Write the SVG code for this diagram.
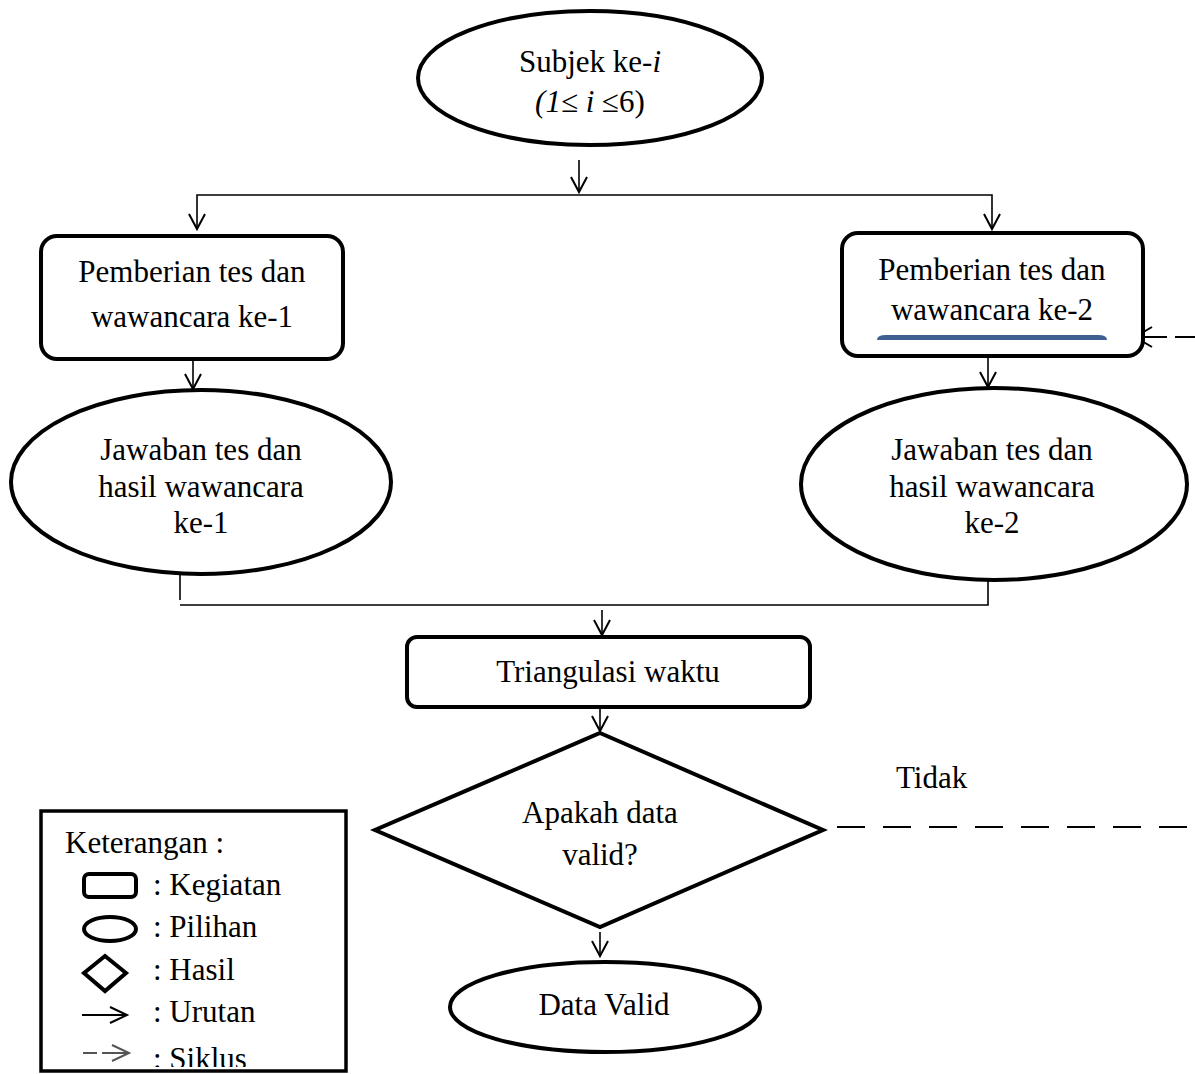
<svg xmlns="http://www.w3.org/2000/svg" width="1195" height="1074" viewBox="0 0 1195 1074">
<style>
.shape{fill:#fff;stroke:#000;stroke-width:4}
.t{font-family:"Liberation Serif","Times New Roman",serif;font-size:31px;fill:#000;text-anchor:middle}
.lt{font-family:"Liberation Serif","Times New Roman",serif;font-size:31px;fill:#000}
.ln{fill:none;stroke:#000;stroke-width:1.6}
.ah{fill:none;stroke:#000;stroke-width:2}
.dash{fill:none;stroke:#000;stroke-width:1.8;stroke-dasharray:28 18}
</style>
<defs>
<clipPath id="legclip"><rect x="40" y="810" width="307" height="257"/></clipPath>
</defs>
<rect width="1195" height="1074" fill="#fff"/>

<g id="connectors">
  <line class="ln" x1="579" y1="160" x2="579" y2="192"/>
  <polyline class="ah" points="571,177 579,192 587,177"/>
  <polyline class="ln" points="197,228 197,195 992,195 992,228"/>
  <polyline class="ah" points="189,214 197,229 205,214"/>
  <polyline class="ah" points="984,214 992,229 1000,214"/>
  <line class="ln" x1="193" y1="360" x2="193" y2="389"/>
  <polyline class="ah" points="185,374 193,389 201,374"/>
  <line class="ln" x1="988" y1="357" x2="988" y2="387"/>
  <polyline class="ah" points="980,372 988,387 996,372"/>
  <line class="ln" x1="180" y1="575" x2="180" y2="600"/>
  <polyline class="ln" points="180,605 988,605 988,581"/>
  <line class="ln" x1="602" y1="610" x2="602" y2="635"/>
  <polyline class="ah" points="594,620 602,635 610,620"/>
  <line class="ln" x1="600" y1="709" x2="600" y2="731"/>
  <polyline class="ah" points="592,716 600,731 608,716"/>
  <line class="ln" x1="600" y1="932" x2="600" y2="956"/>
  <polyline class="ah" points="592,941 600,956 608,941"/>
  <line class="dash" x1="837" y1="827" x2="1195" y2="827"/>
  <line class="ln" x1="1135" y1="337" x2="1167" y2="337" style="stroke-width:2"/>
  <line class="ln" x1="1175" y1="337" x2="1195" y2="337" style="stroke-width:2"/>
  <polyline class="ah" points="1152,327 1135,337 1152,347"/>
</g>

<g id="n-subjek">
  <ellipse class="shape" cx="590" cy="78" rx="172" ry="67"/>
  <text class="t" x="590" y="72">Subjek ke-<tspan font-style="italic">i</tspan></text>
  <text class="t" x="590" y="112"><tspan font-style="italic">(1≤ i </tspan>≤6)</text>
</g>

<g id="n-tes1">
  <rect class="shape" x="41" y="236" width="302" height="123" rx="16"/>
  <text class="t" x="192" y="282">Pemberian tes dan</text>
  <text class="t" x="192" y="327">wawancara ke-1</text>
</g>

<g id="n-tes2">
  <rect class="shape" x="842" y="233" width="301" height="123" rx="16"/>
  <text class="t" x="992" y="280">Pemberian tes dan</text>
  <text class="t" x="992" y="320">wawancara ke-2</text>
  <path d="M877,340 Q877,335 886,335 L1098,335 Q1107,335 1107,340 Z" fill="#3d5f91"/>
</g>

<g id="n-jawab1">
  <ellipse class="shape" cx="201" cy="482" rx="190" ry="92"/>
  <text class="t" x="201" y="460">Jawaban tes dan</text>
  <text class="t" x="201" y="497">hasil wawancara</text>
  <text class="t" x="201" y="533">ke-1</text>
</g>

<g id="n-jawab2">
  <ellipse class="shape" cx="994" cy="484" rx="193" ry="96"/>
  <text class="t" x="992" y="460">Jawaban tes dan</text>
  <text class="t" x="992" y="497">hasil wawancara</text>
  <text class="t" x="992" y="533">ke-2</text>
</g>

<g id="n-triangulasi">
  <rect class="shape" x="407" y="637" width="403" height="70" rx="10"/>
  <text class="t" x="608" y="682">Triangulasi waktu</text>
</g>

<g id="n-valid">
  <polygon class="shape" points="600,733 823,830 600,927 375,830"/>
  <text class="t" x="600" y="823">Apakah data</text>
  <text class="t" x="600" y="865">valid?</text>
</g>

<g id="n-tidak">
  <text class="lt" x="896" y="788">Tidak</text>
</g>

<g id="n-datavalid">
  <ellipse class="shape" cx="605" cy="1007" rx="155" ry="45"/>
  <text class="t" x="604" y="1015">Data Valid</text>
</g>

<g id="legend">
  <rect x="41" y="811" width="305" height="260" fill="#fff" stroke="#000" stroke-width="3.5"/>
  <g clip-path="url(#legclip)">
    <text class="lt" x="65" y="853">Keterangan :</text>
    <rect x="84" y="874" width="52" height="23" rx="5" fill="none" stroke="#000" stroke-width="4"/>
    <text class="lt" x="153" y="895">: Kegiatan</text>
    <ellipse cx="110" cy="929" rx="26" ry="12" fill="none" stroke="#000" stroke-width="4"/>
    <text class="lt" x="153" y="937">: Pilihan</text>
    <polygon points="105,956 126,973 105,991 84,973" fill="none" stroke="#000" stroke-width="4"/>
    <text class="lt" x="153" y="980">: Hasil</text>
    <line x1="82" y1="1015" x2="126" y2="1015" stroke="#000" stroke-width="2"/>
    <polyline points="110,1007 127,1015 110,1023" fill="none" stroke="#000" stroke-width="2"/>
    <text class="lt" x="153" y="1022">: Urutan</text>
    <line x1="83" y1="1053" x2="97" y2="1053" stroke="#555" stroke-width="2"/>
    <line x1="102" y1="1053" x2="128" y2="1053" stroke="#555" stroke-width="2"/>
    <polyline points="112,1045 129,1053 112,1061" fill="none" stroke="#555" stroke-width="2"/>
    <text class="lt" x="153" y="1069">: Siklus</text>
  </g>
</g>
</svg>
